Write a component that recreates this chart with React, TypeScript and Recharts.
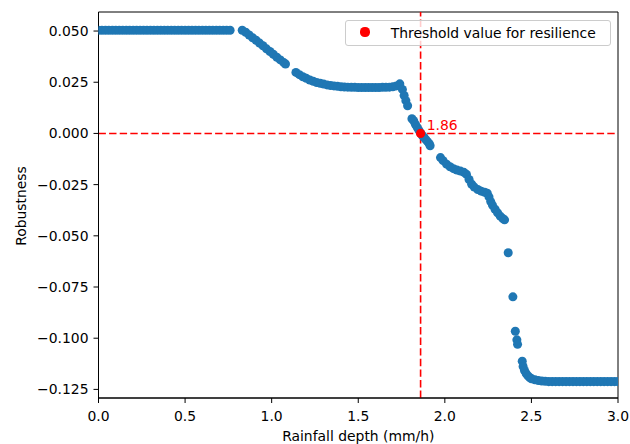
import {
  Legend,
  ReferenceArea,
  ReferenceLine,
  Scatter,
  ScatterChart,
  XAxis,
  YAxis,
  ZAxis,
} from "recharts";

// rainfall depth (mm/h) and robustness
const rainfall = [
  0.0, 0.02, 0.04, 0.06, 0.08, 0.1, 0.12, 0.14, 0.16, 0.18, 0.2, 0.22, 0.24,
  0.26, 0.28, 0.3, 0.32, 0.34, 0.36, 0.38, 0.4, 0.42, 0.44, 0.46, 0.48, 0.5,
  0.52, 0.54, 0.56, 0.58, 0.6, 0.62, 0.64, 0.66, 0.68, 0.7, 0.72, 0.74, 0.76,
  0.83, 0.85, 0.87, 0.89, 0.91, 0.93, 0.95, 0.97, 0.99, 1.01, 1.03, 1.05, 1.07,
  1.08,
  1.14, 1.16, 1.18, 1.2, 1.22, 1.24, 1.26, 1.28, 1.3, 1.32, 1.34, 1.36, 1.38,
  1.4, 1.42, 1.44, 1.46, 1.48, 1.5, 1.52, 1.54, 1.56, 1.58, 1.6, 1.62, 1.64,
  1.66, 1.68, 1.7, 1.72, 1.74, 1.755, 1.765, 1.775, 1.785,
  1.81, 1.82, 1.83, 1.84, 1.85, 1.86, 1.87, 1.88, 1.89, 1.9, 1.91, 1.915,
  1.975, 1.99, 2.01, 2.03, 2.05, 2.07, 2.09, 2.11, 2.125, 2.14, 2.155, 2.17,
  2.19, 2.21, 2.23, 2.245, 2.255, 2.265, 2.275, 2.29, 2.305, 2.32, 2.335, 2.345,
  2.366, 2.393, 2.407, 2.416, 2.42, 2.447, 2.452, 2.46, 2.47, 2.48, 2.49, 2.5,
  2.52, 2.54, 2.56, 2.58, 2.6, 2.62, 2.64, 2.66, 2.68, 2.7, 2.72, 2.74, 2.76,
  2.78, 2.8, 2.82, 2.84, 2.86, 2.88, 2.9, 2.92, 2.94, 2.96, 2.98, 3.0,
];

const robustness = [
  0.0504, 0.0504, 0.0504, 0.0504, 0.0504, 0.0504, 0.0504, 0.0504, 0.0504,
  0.0504, 0.0504, 0.0504, 0.0504, 0.0504, 0.0504, 0.0504, 0.0504, 0.0504,
  0.0504, 0.0504, 0.0504, 0.0504, 0.0504, 0.0504, 0.0504, 0.0504, 0.0504,
  0.0504, 0.0504, 0.0504, 0.0504, 0.0504, 0.0504, 0.0504, 0.0504, 0.0504,
  0.0504, 0.0504, 0.0504,
  0.0504, 0.0494, 0.0481, 0.0467, 0.0455, 0.0441, 0.0428, 0.0413, 0.04, 0.0386,
  0.0372, 0.0359, 0.0346, 0.0339,
  0.0298, 0.0287, 0.0277, 0.0269, 0.0261, 0.0255, 0.0249, 0.0245, 0.0241,
  0.0237, 0.0234, 0.0232, 0.023, 0.0228, 0.0227, 0.0226, 0.0225, 0.0225,
  0.0224, 0.0224, 0.0224, 0.0224, 0.0224, 0.0224, 0.0224, 0.0225, 0.0225,
  0.0226, 0.0228, 0.0232, 0.0242, 0.0215, 0.0185, 0.016, 0.0135,
  0.0072, 0.0062, 0.0045, 0.003, 0.0016, 0.0002, -0.001, -0.002, -0.003,
  -0.004, -0.005, -0.006,
  -0.0118, -0.0133, -0.015, -0.0163, -0.0172, -0.0179, -0.0184, -0.019, -0.02,
  -0.0225, -0.0248, -0.0262, -0.0274, -0.0282, -0.0287, -0.0292, -0.031,
  -0.0333, -0.035, -0.037, -0.0388, -0.0404, -0.0416, -0.0422,
  -0.0583, -0.0798, -0.0966, -0.1008, -0.103, -0.1112, -0.1138, -0.1158,
  -0.1173, -0.1184, -0.1192, -0.1198, -0.1203, -0.1207, -0.1209, -0.121,
  -0.1212, -0.1212, -0.1212, -0.1212, -0.1212, -0.1212, -0.1212, -0.1212,
  -0.1212, -0.1212, -0.1212, -0.1212, -0.1212, -0.1212, -0.1212, -0.1212,
  -0.1212, -0.1212, -0.1212, -0.1212, -0.1212,
];

const thresholdRain = 1.86;
const thresholdRobustness = 0;
const thresholdName = "Threshold value for resilience";

const xTicks = [0, 0.5, 1, 1.5, 2, 2.5, 3];
const yTicks = [-0.125, -0.1, -0.075, -0.05, -0.025, 0, 0.025, 0.05];
const xDomain = [0, 3];
const yDomain = [-0.1292, 0.0593];

const points = rainfall.map((x, i) => ({ x, y: robustness[i] }));
const threshold = [{ x: thresholdRain, y: thresholdRobustness }];

const FONT = "'DejaVu Sans', sans-serif";
const FS = 13.9;
const BLUE = "#1f77b4";
const RED = "#ff0000";

const fmtY = (v: number) => {
  const s = Math.abs(v).toFixed(3);
  return v < -1e-9 ? `\u2212${s}` : s;
};

function ThresholdDot(props: any) {
  const { cx, cy } = props;
  return (
    <g>
      <circle cx={cx} cy={cy} r={4.6} fill={RED} />
      <text x={cx + 6.2} y={cy - 3.5} fill={RED} fontSize={FS} fontFamily={FONT}>
        {thresholdRain.toFixed(2)}
      </text>
    </g>
  );
}

function LegendBox(props: any) {
  const item = (props.payload || []).find((p: any) => p.type !== "none");
  return (
    <div
      style={{
        boxSizing: "border-box",
        width: 266,
        height: 26,
        border: "1px solid #cccccc",
        borderRadius: 3,
        background: "rgba(255,255,255,0.8)",
        position: "relative",
        fontFamily: FONT,
        fontSize: FS,
        color: "#000",
      }}
    >
      <span
        style={{
          position: "absolute",
          left: 14.4,
          top: 6.7,
          width: 9.2,
          height: 9.2,
          borderRadius: "50%",
          background: RED,
        }}
      />
      <span
        style={{
          position: "absolute",
          left: 44.7,
          top: 0,
          lineHeight: "24px",
          whiteSpace: "nowrap",
        }}
      >
        {item ? item.value : thresholdName}
      </span>
    </div>
  );
}

export default function App() {
  const tick = { fill: "#000", fontSize: FS, fontFamily: FONT };
  return (
    <div style={{ position: "absolute", left: 0, top: 0, width: 630, height: 444, background: "#fff" }}>
      <ScatterChart width={630} height={444} margin={{ top: 12, right: 12, bottom: 0, left: 0 }}>
        <XAxis
          type="number"
          dataKey="x"
          domain={xDomain}
          ticks={xTicks}
          interval={0}
          allowDataOverflow
          height={46}
          tickSize={5}
          tickMargin={8}
          tick={tick}
          tickLine={{ stroke: "#000" }}
          axisLine={{ stroke: "#000" }}
          tickFormatter={(v: number) => v.toFixed(1)}
          label={() => (
            <text x={358.3} y={441} textAnchor="middle" fill="#000" fontSize={FS} fontFamily={FONT}>
              Rainfall depth (mm/h)
            </text>
          )}
        />
        <YAxis
          type="number"
          dataKey="y"
          domain={yDomain}
          ticks={yTicks}
          interval={0}
          allowDataOverflow
          width={98.5}
          tickSize={5}
          tickMargin={5}
          tick={tick}
          tickLine={{ stroke: "#000" }}
          axisLine={{ stroke: "#000" }}
          tickFormatter={fmtY}
          label={() => (
            <text
              x={26}
              y={206}
              transform="rotate(-90 26 206)"
              textAnchor="middle"
              fill="#000"
              fontSize={FS}
              fontFamily={FONT}
            >
              Robustness
            </text>
          )}
        />
        <ZAxis range={[72, 72]} />
        <Scatter
          data={points}
          fill={BLUE}
          legendType="none"
          isAnimationActive={false}
        />
        <ReferenceLine y={thresholdRobustness} stroke={RED} strokeWidth={1.6} strokeDasharray="7.4 3.2" />
        <ReferenceLine x={thresholdRain} stroke={RED} strokeWidth={1.6} strokeDasharray="7.4 3.2" />
        <Scatter
          name={thresholdName}
          data={threshold}
          fill={RED}
          shape={ThresholdDot}
          isAnimationActive={false}
        />
        <ReferenceArea
          x1={xDomain[0]}
          x2={xDomain[1]}
          y1={yDomain[0]}
          y2={yDomain[1]}
          fill="none"
          fillOpacity={0}
          stroke="#000"
          strokeWidth={1}
        />
        <Legend
          layout="horizontal"
          verticalAlign="middle"
          align="center"
          content={(p: any) => <LegendBox {...p} />}
          wrapperStyle={{ position: "absolute", left: 345, top: 19.7, right: "auto", bottom: "auto", width: 266, height: 26 }}
        />
      </ScatterChart>
    </div>
  );
}
